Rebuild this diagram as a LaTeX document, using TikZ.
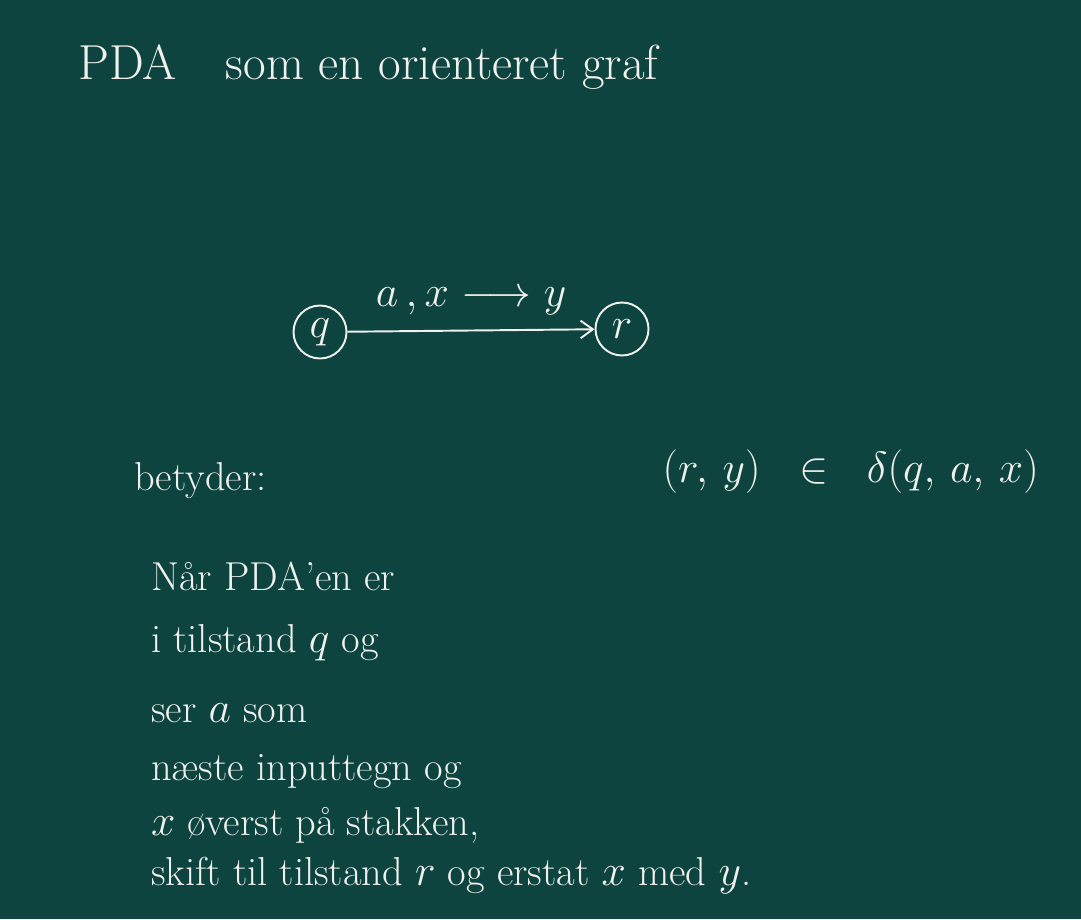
\documentclass[tikz,border=0pt]{standalone}
\usepackage{amsmath,amssymb}
\usepackage{tikz}
\usetikzlibrary{arrows.meta}
\definecolor{board}{HTML}{0D4440}
\definecolor{chalk}{HTML}{F0F0EC}

\begin{document}
\begin{tikzpicture}[x=0.02cm, y=-0.02cm, >={Straight Barb[length=7pt,width=10pt]},
    every node/.style={font=\fontsize{23}{27}\selectfont, text=chalk},
    pdastate/.style={draw=chalk, circle, line width=1.1pt, minimum size=1.06cm, inner sep=0pt},
    textline/.style={anchor=base west}]
  \fill[board] (0,0) rectangle (1081,919);
  \node[textline, font=\fontsize{28}{32}\selectfont] (title) at (72,80) {PDA\quad som en orienteret graf};
  % graf
  \node[pdastate] (q) at (320,332) {$q$};
  \node[pdastate] (r) at (622,329) {$r$};
  \draw[->, chalk, line width=1.1pt] (q) -- node[above=5pt] (lbl) {$a\,,x \longrightarrow y$} (r);
  % betydning
  \node[textline] (bet) at (128,490) {betyder:};
  \node[anchor=base east, font=\fontsize{25}{29}\selectfont] (delta) at (1045,482)
    {$(r,\,y)\ \ \in\ \ \delta(q,\,a,\,x)$};
  \node[textline] (l1) at (145,590) {Når PDA'en er};
  \node[textline] (l2) at (145,652) {i tilstand $q$ og};
  \node[textline] (l3) at (145,722) {ser $a$ som};
  \node[textline] (l4) at (145,780) {næste inputtegn og};
  \node[textline] (l5) at (145,835) {$x$ øverst på stakken,};
  \node[textline] (l6) at (145,885) {skift til tilstand $r$ og erstat $x$ med $y$.};
\end{tikzpicture}
\end{document}
